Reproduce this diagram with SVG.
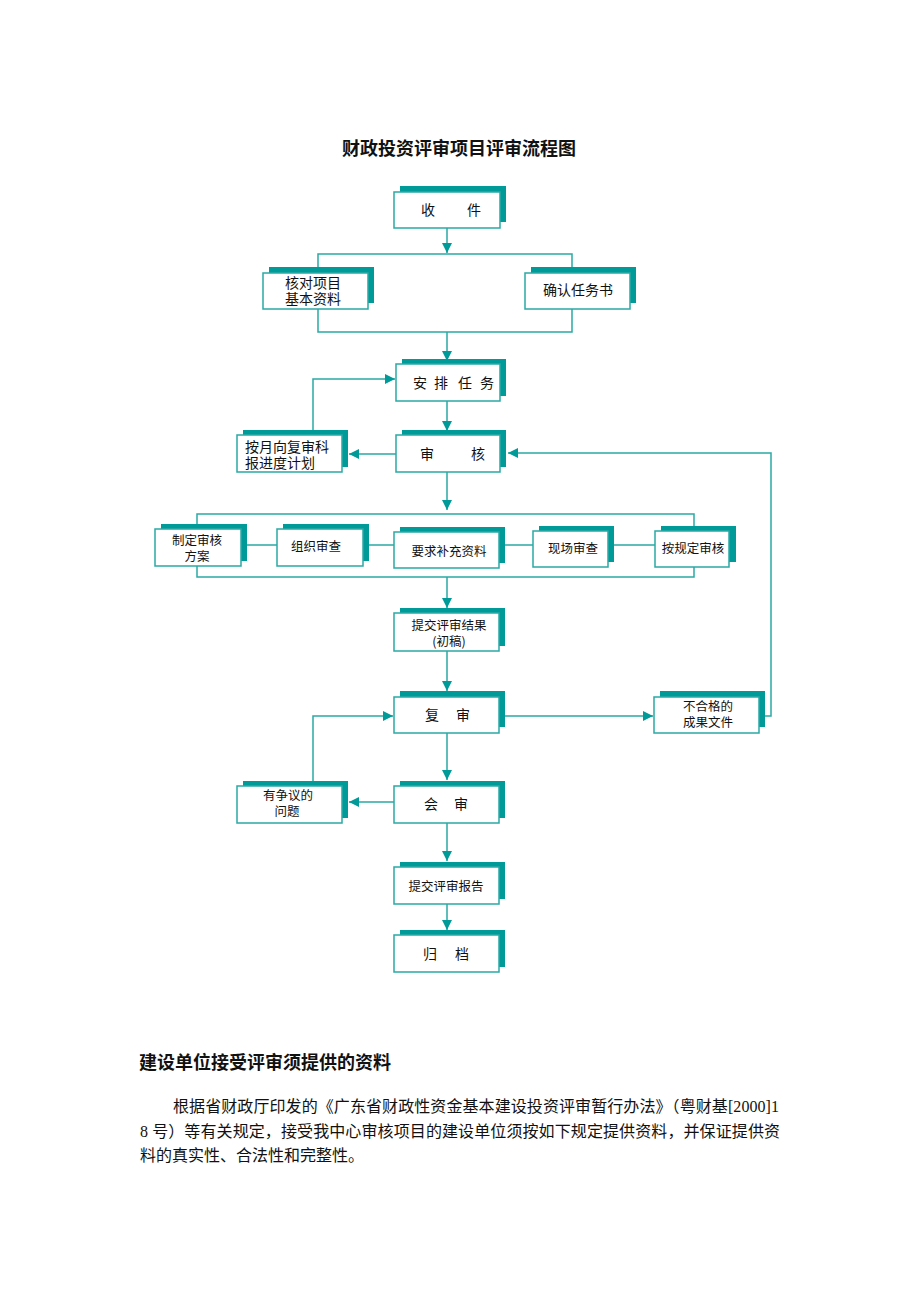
<svg xmlns="http://www.w3.org/2000/svg" width="920" height="1302" viewBox="0 0 920 1302">
<style>
.sh{fill:#009b98;stroke:none}
.bx{fill:#fff;stroke:#2aa9a5;stroke-width:1.5}
.ln{fill:none;stroke:#2aa9a5;stroke-width:1.5}
.t{font-family:"Noto Sans CJK SC","Noto Sans",sans-serif;font-size:14px;fill:#111}
.s{font-family:"Noto Sans CJK SC","Noto Sans",sans-serif;font-size:12.5px;fill:#111;text-anchor:middle}
.h{font-family:"Noto Sans CJK SC","Liberation Sans",sans-serif;font-size:18px;font-weight:bold;fill:#111}
.p{font-family:"Liberation Serif","Noto Sans CJK SC",serif;font-size:16px;fill:#111}
</style>
<defs>
<marker id="ar" markerUnits="userSpaceOnUse" markerWidth="10" markerHeight="10" viewBox="0 0 10 10" refX="10" refY="5" orient="auto">
<path d="M0,0 L10,5 L0,10 z" fill="#009b98"/>
</marker>
</defs>
<rect width="920" height="1302" fill="#fff"/>
<text class="h" x="459" y="155" text-anchor="middle">财政投资评审项目评审流程图</text>

<g id="connectors">
<path class="ln" d="M447 228 V253" marker-end="url(#ar)"/>
<path class="ln" d="M318 273 V254 H572 V273"/>
<path class="ln" d="M318 309 V332 H572 V309"/>
<path class="ln" d="M447 332 V361" marker-end="url(#ar)"/>
<path class="ln" d="M447 401 V431" marker-end="url(#ar)"/>
<path class="ln" d="M396 454 H349" marker-end="url(#ar)"/>
<path class="ln" d="M313 435 V379 H395" marker-end="url(#ar)"/>
<path class="ln" d="M447 472 V510" marker-end="url(#ar)"/>
<path class="ln" d="M197 529 V514 H694 V531"/>
<path class="ln" d="M197 566 V577 H694 V567"/>
<path class="ln" d="M241 545 H277"/>
<path class="ln" d="M363 545 H394"/>
<path class="ln" d="M499 545 H533"/>
<path class="ln" d="M608 545 H655"/>
<path class="ln" d="M447 577 V608" marker-end="url(#ar)"/>
<path class="ln" d="M447 651 V691" marker-end="url(#ar)"/>
<path class="ln" d="M499 716 H653" marker-end="url(#ar)"/>
<path class="ln" d="M765 716 H771 V453 H508" marker-end="url(#ar)"/>
<path class="ln" d="M313 786 V716 H393" marker-end="url(#ar)"/>
<path class="ln" d="M447 733 V780" marker-end="url(#ar)"/>
<path class="ln" d="M394 802 H349" marker-end="url(#ar)"/>
<path class="ln" d="M447 823 V861" marker-end="url(#ar)"/>
<path class="ln" d="M447 904 V930" marker-end="url(#ar)"/>
</g>

<g id="n1"><rect class="sh" x="400" y="186" width="106" height="36"/><rect class="bx" x="394" y="192" width="106" height="36"/><text class="t" x="421 467" y="215">收件</text></g>
<g id="n2"><rect class="sh" x="269" y="267" width="105" height="36"/><rect class="bx" x="263" y="273" width="105" height="36"/><text class="t" y="288"><tspan x="285">核对项目</tspan><tspan x="285" dy="16">基本资料</tspan></text></g>
<g id="n3"><rect class="sh" x="531" y="267" width="105" height="36"/><rect class="bx" x="525" y="273" width="105" height="36"/><text class="t" x="543" y="295">确认任务书</text></g>
<g id="n4"><rect class="sh" x="402" y="359" width="104" height="37"/><rect class="bx" x="396" y="364" width="104" height="37"/><text class="t" x="413 434 458 480" y="388">安排任务</text></g>
<g id="n5"><rect class="sh" x="243" y="430" width="105" height="37"/><rect class="bx" x="237" y="435" width="105" height="37"/><text class="t" y="452"><tspan x="245">按月向复审科</tspan><tspan x="245" dy="16">报进度计划</tspan></text></g>
<g id="n6"><rect class="sh" x="402" y="430" width="104" height="37"/><rect class="bx" x="396" y="435" width="104" height="37"/><text class="t" x="420 471" y="459">审核</text></g>
<g id="n7"><rect class="sh" x="161" y="524" width="86" height="37"/><rect class="bx" x="155" y="529" width="86" height="37"/><text class="s" y="545"><tspan x="197">制定审核</tspan><tspan x="197" dy="16">方案</tspan></text></g>
<g id="n8"><rect class="sh" x="283" y="524" width="86" height="37"/><rect class="bx" x="277" y="529" width="86" height="37"/><text class="s" x="316" y="551">组织审查</text></g>
<g id="n9"><rect class="sh" x="400" y="527" width="105" height="36"/><rect class="bx" x="394" y="532" width="105" height="36"/><text class="s" x="449" y="556">要求补充资料</text></g>
<g id="n10"><rect class="sh" x="539" y="526" width="75" height="36"/><rect class="bx" x="533" y="531" width="75" height="36"/><text class="s" x="573" y="553">现场审查</text></g>
<g id="n11"><rect class="sh" x="661" y="526" width="75" height="36"/><rect class="bx" x="655" y="531" width="74" height="36"/><text class="s" x="693" y="553">按规定审核</text></g>
<g id="n12"><rect class="sh" x="400" y="608" width="105" height="38"/><rect class="bx" x="394" y="613" width="105" height="38"/><text class="s" y="630"><tspan x="449">提交评审结果</tspan><tspan x="449" dy="16">(初稿)</tspan></text></g>
<g id="n13"><rect class="sh" x="400" y="691" width="105" height="36"/><rect class="bx" x="394" y="697" width="105" height="36"/><text class="t" x="425 456" y="720">复审</text></g>
<g id="n14"><rect class="sh" x="660" y="691" width="105" height="36"/><rect class="bx" x="654" y="697" width="105" height="36"/><text class="s" y="711"><tspan x="708">不合格的</tspan><tspan x="708" dy="16">成果文件</tspan></text></g>
<g id="n15"><rect class="sh" x="243" y="781" width="105" height="37"/><rect class="bx" x="237" y="786" width="105" height="37"/><text class="s" y="800"><tspan x="288">有争议的</tspan><tspan x="287" dy="16">问题</tspan></text></g>
<g id="n16"><rect class="sh" x="400" y="781" width="105" height="37"/><rect class="bx" x="394" y="786" width="105" height="37"/><text class="t" x="424 454" y="809">会审</text></g>
<g id="n17"><rect class="sh" x="400" y="862" width="105" height="37"/><rect class="bx" x="394" y="867" width="105" height="37"/><text class="s" x="446" y="891">提交评审报告</text></g>
<g id="n18"><rect class="sh" x="400" y="930" width="105" height="37"/><rect class="bx" x="394" y="935" width="105" height="37"/><text class="t" x="423 455" y="959">归档</text></g>

<text class="h" x="139" y="1069">建设单位接受评审须提供的资料</text>
<text class="p" x="173" y="1112" textLength="606" lengthAdjust="spacing">根据省财政厅印发的《广东省财政性资金基本建设投资评审暂行办法》（粤财基[2000]1</text>
<text class="p" x="140" y="1137" textLength="640" lengthAdjust="spacing">8 号）等有关规定，接受我中心审核项目的建设单位须按如下规定提供资料，并保证提供资</text>
<text class="p" x="140" y="1161">料的真实性、合法性和完整性。</text>
</svg>
